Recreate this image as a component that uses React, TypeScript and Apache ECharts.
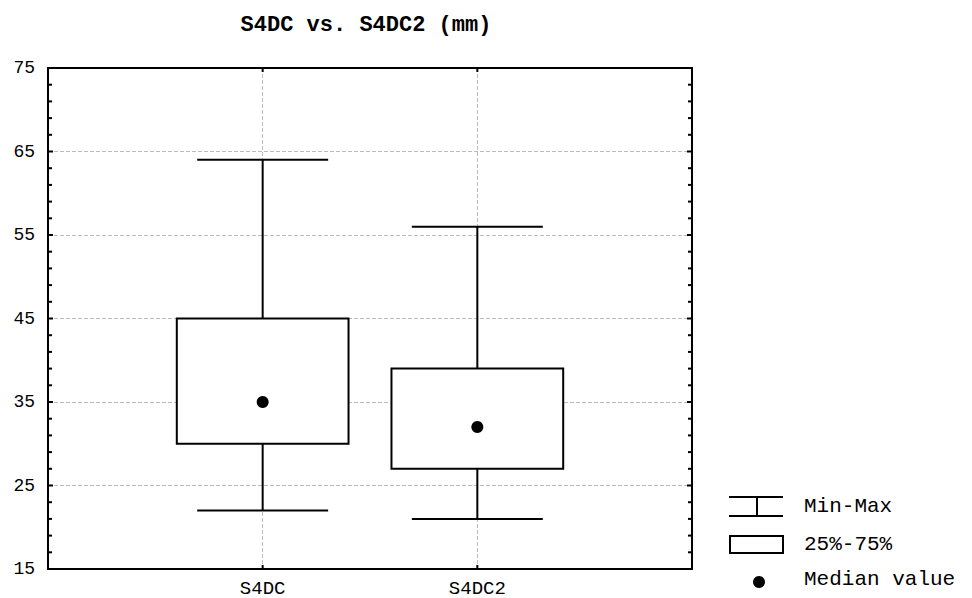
import React, { useEffect, useRef } from "react";
import * as echarts from "echarts";

const categories = ["S4DC", "S4DC2"];
const minValues = [22, 21];
const q1Values = [30, 27];
const medianValues = [35, 32];
const q3Values = [45, 39];
const maxValues = [64, 56];
const yTicks = [15, 25, 35, 45, 55, 65, 75];
const legendLabels = ["Min-Max", "25%-75%", "Median value"];
const titleText = "S4DC vs. S4DC2 (mm)";

const FONT = "'Liberation Mono', 'DejaVu Sans Mono', monospace";

export default function App() {
  const ref = useRef<HTMLDivElement>(null);
  useEffect(() => {
    if (!ref.current) return;
    const chart = echarts.init(ref.current, null, { renderer: "svg" });
    const data = categories.map((c, i) => [
      i + 1,
      minValues[i],
      q1Values[i],
      medianValues[i],
      q3Values[i],
      maxValues[i],
    ]);
    const xMin = 0;
    const xMax = categories.length + 1;
    const yMin = yTicks[0];
    const yMax = yTicks[yTicks.length - 1];
    // tick marks: y every 2 units (major every 10), x at each category
    const tickData: number[][] = [];
    for (let v = yMin; v <= yMax; v += 2) {
      tickData.push([0, v, (v - yMin) % 10 === 0 ? 1 : 0]);
    }
    categories.forEach((c, i) => tickData.push([1, i + 1, 1]));

    const gridLeft = 48;
    const gridTop = 68;
    const gridRight = 692;
    const gridBottom = 569;
    const axisLineStyle = { color: "#000", width: 2 };
    const splitLine = {
      show: true,
      lineStyle: { color: "#bcbcbc", type: [4, 2], width: 1 },
    };
    const option = {
      animation: false,
      backgroundColor: "#fff",
      grid: {
        left: gridLeft,
        top: gridTop,
        width: gridRight - gridLeft,
        height: gridBottom - gridTop,
        containLabel: false,
      },
      xAxis: [
        {
          type: "value",
          min: xMin,
          max: xMax,
          interval: 1,
          position: "bottom",
          axisLine: { show: true, onZero: false, lineStyle: axisLineStyle },
          axisTick: { show: false },
          splitLine,
          axisLabel: {
            show: true,
            margin: 10,
            color: "#000",
            fontFamily: FONT,
            fontSize: 19,
            formatter: (v: number) => {
              const idx = Math.round(v) - 1;
              return idx >= 0 && idx < categories.length ? categories[idx] : "";
            },
          },
        },
        {
          type: "value",
          min: xMin,
          max: xMax,
          interval: 1,
          position: "top",
          axisLine: { show: true, onZero: false, lineStyle: axisLineStyle },
          axisTick: { show: false },
          splitLine: { show: false },
          axisLabel: { show: false },
        },
      ],
      yAxis: [
        {
          type: "value",
          min: yMin,
          max: yMax,
          interval: 10,
          position: "left",
          axisLine: { show: true, onZero: false, lineStyle: axisLineStyle },
          axisTick: { show: false },
          splitLine,
          axisLabel: {
            show: true,
            margin: 13,
            color: "#000",
            fontFamily: FONT,
            fontSize: 18,
          },
        },
        {
          type: "value",
          min: yMin,
          max: yMax,
          interval: 10,
          position: "right",
          axisLine: { show: true, onZero: false, lineStyle: axisLineStyle },
          axisTick: { show: false },
          splitLine: { show: false },
          axisLabel: { show: false },
        },
      ],
      series: [
        {
          type: "custom",
          xAxisIndex: 0,
          yAxisIndex: 0,
          data,
          encode: { x: 0, y: [1, 2, 3, 4, 5] },
          z: 5,
          renderItem: (params: any, api: any) => {
            const x = api.value(0);
            const lo = api.coord([x, api.value(1)]);
            const q1 = api.coord([x, api.value(2)]);
            const med = api.coord([x, api.value(3)]);
            const q3 = api.coord([x, api.value(4)]);
            const hi = api.coord([x, api.value(5)]);
            const band = api.size([1, 0])[0];
            const boxHalf = band * 0.4;
            const capHalf = band * 0.305;
            const stroke = { stroke: "#000", lineWidth: 2, fill: null };
            return {
              type: "group",
              children: [
                { type: "line", shape: { x1: lo[0], y1: lo[1], x2: hi[0], y2: hi[1] }, style: stroke },
                { type: "line", shape: { x1: lo[0] - capHalf, y1: lo[1], x2: lo[0] + capHalf, y2: lo[1] }, style: stroke },
                { type: "line", shape: { x1: hi[0] - capHalf, y1: hi[1], x2: hi[0] + capHalf, y2: hi[1] }, style: stroke },
                {
                  type: "rect",
                  shape: { x: q3[0] - boxHalf, y: q3[1], width: boxHalf * 2, height: q1[1] - q3[1] },
                  style: { fill: "#fff", stroke: "#000", lineWidth: 2 },
                },
                { type: "circle", shape: { cx: med[0], cy: med[1], r: 6 }, style: { fill: "#000" } },
              ],
            };
          },
        },
        {
          type: "custom",
          xAxisIndex: 0,
          yAxisIndex: 0,
          data: tickData,
          clip: false,
          silent: true,
          z: 10,
          renderItem: (params: any, api: any) => {
            const kind = api.value(0);
            const v = api.value(1);
            const major = api.value(2) === 1;
            const st = { stroke: "#000", lineWidth: 2 };
            if (kind === 0) {
              const l = api.coord([xMin, v]);
              const r = api.coord([xMax, v]);
              const len = major ? 5 : 4;
              return {
                type: "group",
                children: [
                  { type: "line", shape: { x1: l[0], y1: l[1], x2: l[0] + len, y2: l[1] }, style: st },
                  { type: "line", shape: { x1: r[0], y1: r[1], x2: r[0] - len, y2: r[1] }, style: st },
                ],
              };
            }
            const b = api.coord([v, yMin]);
            const t = api.coord([v, yMax]);
            return {
              type: "group",
              children: [
                { type: "line", shape: { x1: b[0], y1: b[1], x2: b[0], y2: b[1] - 4 }, style: st },
                { type: "line", shape: { x1: t[0], y1: t[1], x2: t[0], y2: t[1] + 4 }, style: st },
              ],
            };
          },
        },
      ],
      graphic: [
        {
          type: "text",
          x: 366,
          y: 25,
          style: {
            text: titleText,
            fill: "#000",
            font: `bold 22px ${FONT}`,
            textAlign: "center",
            textVerticalAlign: "middle",
          },
        },
        // legend: Min-Max glyph
        { type: "line", shape: { x1: 729, y1: 497, x2: 783, y2: 497 }, style: { stroke: "#000", lineWidth: 2 } },
        { type: "line", shape: { x1: 729, y1: 516, x2: 783, y2: 516 }, style: { stroke: "#000", lineWidth: 2 } },
        { type: "line", shape: { x1: 757, y1: 497, x2: 757, y2: 516 }, style: { stroke: "#000", lineWidth: 2 } },
        // legend: box
        {
          type: "rect",
          shape: { x: 730, y: 536, width: 53, height: 17 },
          style: { fill: "#fff", stroke: "#000", lineWidth: 2 },
        },
        // legend: median dot
        { type: "circle", shape: { cx: 759, cy: 582, r: 6 }, style: { fill: "#000" } },
        ...legendLabels.map((t, i) => ({
          type: "text",
          x: 804,
          y: [506, 544, 579][i],
          style: {
            text: t,
            fill: "#000",
            font: `21px ${FONT}`,
            textAlign: "left",
            textVerticalAlign: "middle",
          },
        })),
      ],
    };
    chart.setOption(option as any);
    return () => chart.dispose();
  }, []);
  return <div ref={ref} style={{ width: 972, height: 598, position: "absolute", left: 0, top: 0 }} />;
}
